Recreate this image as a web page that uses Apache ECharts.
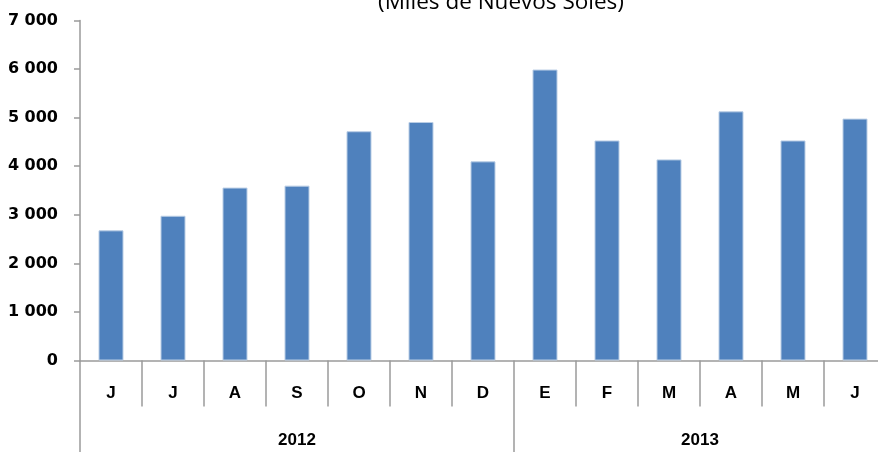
<!DOCTYPE html>
<html>
<head>
<meta charset="utf-8">
<script src="https://cdn.jsdelivr.net/npm/echarts@6/dist/echarts.min.js"></script>
<style>html,body{margin:0;padding:0;background:#fff;overflow:hidden;width:878px;height:452px;}#c{width:890px;height:452px;}</style>
</head>
<body>
<div id="c"></div>
<script>
var titleText = '(Miles de Nuevos Soles)';
var months = ['J','J','A','S','O','N','D','E','F','M','A','M','J'];
var values = [2680, 2980, 3560, 3600, 4720, 4910, 4100, 5990, 4530, 4140, 5130, 4530, 4980];
var years = ['2012', '2013'];
var yearMonthCounts = [7, 6];
var yTicks = [0, 1000, 2000, 3000, 4000, 5000, 6000, 7000];

// second-level axis built from year groups (half-month slots)
var yearSlots = [];
var yearLabelIdx = {};
var yearTickIdx = {0: true};
(function () {
  var pos = 0;
  for (var i = 0; i < years.length; i++) {
    yearLabelIdx[pos + yearMonthCounts[i]] = years[i];
    pos += yearMonthCounts[i] * 2;
    yearTickIdx[pos] = true;
  }
  for (var k = 0; k <= pos; k++) yearSlots.push(yearLabelIdx[k] || '');
})();

var chart = echarts.init(document.getElementById('c'));
var axisGray = '#9a9a9a';
chart.setOption({
  animation: false,
  graphic: [{
    type: 'text', left: 378, top: -9,
    style: { text: titleText, font: '22.5px "Open Sans", sans-serif', fill: '#000' }
  }],
  grid: { left: 80, right: 4, top: 20.5, bottom: 91.5, containLabel: false },
  xAxis: [{
    type: 'category', data: months, position: 'bottom',
    axisLine: { lineStyle: { color: axisGray, width: 1.5 } },
    axisTick: { show: true, interval: 0, length: 46, lineStyle: { color: axisGray, width: 1.5 } },
    axisLabel: { interval: 0, margin: 24, color: '#000', fontWeight: 'bold', fontSize: 17, fontFamily: 'Liberation Sans, Arial, sans-serif' }
  }, {
    type: 'category', data: yearSlots, position: 'bottom', offset: 46, boundaryGap: false,
    axisLine: { show: false },
    axisTick: { show: true, length: 46, interval: function (i) { return !!yearTickIdx[i]; }, lineStyle: { color: axisGray, width: 1.5 } },
    axisLabel: { interval: function (i, v) { return v !== ''; }, margin: 25, color: '#000', fontWeight: 'bold', fontSize: 17, fontFamily: 'Liberation Sans, Arial, sans-serif' }
  }],
  yAxis: {
    type: 'value', min: yTicks[0], max: yTicks[yTicks.length - 1], interval: 1000,
    axisLine: { show: true, lineStyle: { color: axisGray, width: 1.5 } },
    axisTick: { show: true, length: 6, lineStyle: { color: axisGray, width: 1.5 } },
    splitLine: { show: false },
    axisLabel: {
      margin: 22, color: '#000', fontWeight: 'bold', fontSize: 16, fontFamily: 'DejaVu Sans, sans-serif',
      formatter: function (v) { return String(v).replace(/\B(?=(\d{3})+(?!\d))/g, ' '); }
    }
  },
  series: [{
    type: 'bar', data: values, barWidth: 25, xAxisIndex: 0,
    itemStyle: { color: '#4F81BD', borderColor: '#b9cde5', borderWidth: 1 }
  }]
});
</script>
</body>
</html>
